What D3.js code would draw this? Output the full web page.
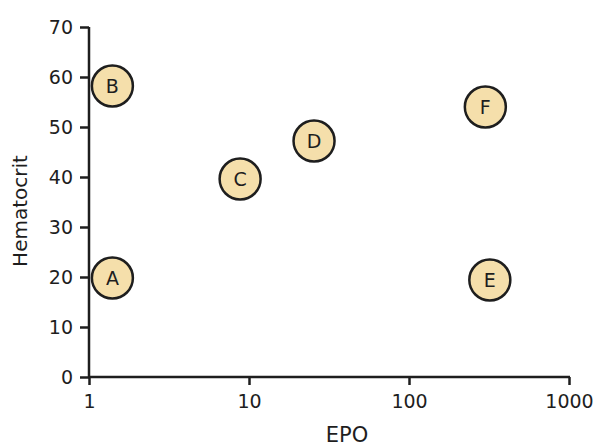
<!DOCTYPE html>
<html>
<head>
<meta charset="utf-8">
<script src="https://cdn.jsdelivr.net/npm/d3@7"></script>
<style>
  html, body { margin: 0; padding: 0; background: #fff; }
  svg { display: block; }
  text { font-family: "DejaVu Sans", "Liberation Sans", sans-serif; fill: #1e1e1e; }
</style>
</head>
<body>
<svg id="chart" width="594" height="448"></svg>
<script>
const labels = ["A", "B", "C", "D", "E", "F"];
const epo = [1.4, 1.4, 8.8, 25.5, 320, 300];
const hematocrit = [19.8, 58.2, 39.6, 47.2, 19.4, 54];
const xTicks = [1, 10, 100, 1000];
const yTicks = [0, 10, 20, 30, 40, 50, 60, 70];
const xTitle = "EPO";
const yTitle = "Hematocrit";

const svg = d3.select("#chart");
const x = d3.scaleLog().domain([1, 1000]).range([89, 569]);
const y = d3.scaleLinear().domain([0, 70]).range([377, 27]);
const ink = "#1e1e1e";

const xAxis = svg.append("g")
  .attr("transform", `translate(0,${y(0)})`)
  .call(d3.axisBottom(x).tickValues(xTicks).tickFormat(d3.format("d"))
    .tickSize(8).tickSizeOuter(0).tickPadding(10));
const yAxis = svg.append("g")
  .attr("transform", `translate(${x(1)},0)`)
  .call(d3.axisLeft(y).tickValues(yTicks).tickSize(9).tickSizeOuter(0).tickPadding(7));

[xAxis, yAxis].forEach(g => {
  g.select(".domain").attr("stroke", ink).attr("stroke-width", 2.5);
  g.selectAll(".tick line").attr("stroke", ink).attr("stroke-width", 2.5);
  g.selectAll(".tick text").attr("font-size", 19).attr("fill", ink)
    .style("font-family", '"DejaVu Sans", sans-serif');
});
yAxis.select(".domain").attr("d", `M0,${y(70)}V${y(0) + 1}`);
xAxis.select(".domain").attr("d", `M-1,0H${x(1000) - x(1) + 1}`).attr("transform", `translate(${x(1)},0)`);

svg.append("text")
  .attr("x", 347).attr("y", 442)
  .attr("text-anchor", "middle")
  .attr("font-size", 21)
  .text(xTitle);

svg.append("text")
  .attr("transform", "translate(27,211) rotate(-90)")
  .attr("text-anchor", "middle")
  .attr("font-size", 20)
  .text(yTitle);

const pts = labels.map((l, i) => ({ l, x: epo[i], y: hematocrit[i] }));
const g = svg.append("g");
g.selectAll("circle").data(pts).enter().append("circle")
  .attr("cx", d => x(d.x)).attr("cy", d => y(d.y))
  .attr("r", 20.5)
  .attr("fill", "#f5dfab")
  .attr("stroke", ink)
  .attr("stroke-width", 2.5);
g.selectAll("text").data(pts).enter().append("text")
  .attr("x", d => x(d.x)).attr("y", d => y(d.y))
  .attr("dy", "0.36em")
  .attr("text-anchor", "middle")
  .attr("font-size", 19)
  .text(d => d.l);
</script>
</body>
</html>
